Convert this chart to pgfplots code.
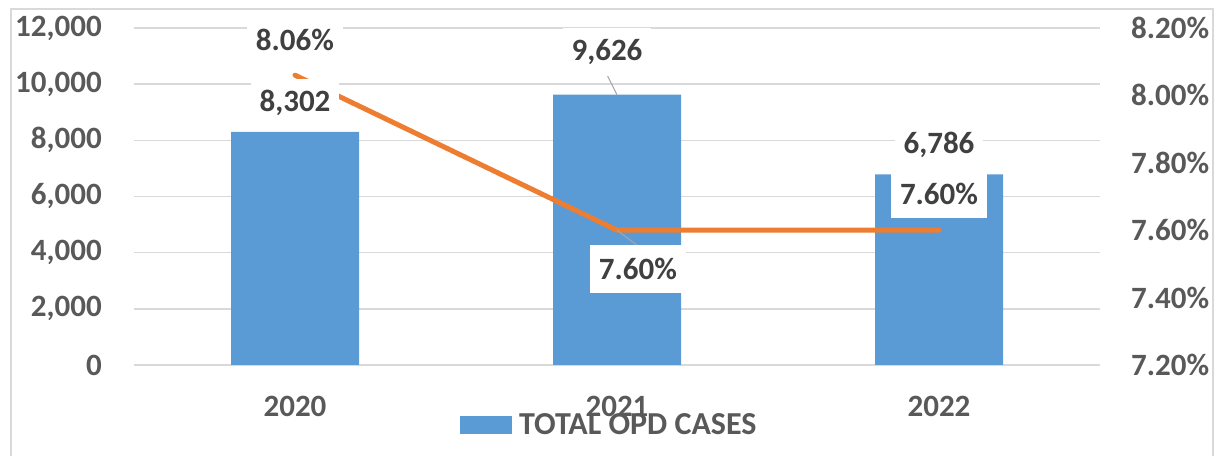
\documentclass[border=0pt]{standalone}
\usepackage{fontspec}
\setmainfont{Carlito}
\usepackage{pgfplots}
\pgfplotsset{compat=1.18}
\definecolor{barblue}{HTML}{5B9BD5}
\definecolor{lineorange}{HTML}{ED7D31}
\definecolor{gridgray}{HTML}{D9D9D9}
\definecolor{ticktext}{HTML}{595959}
\definecolor{labeltext}{HTML}{404040}
\definecolor{leader}{HTML}{A6A6A6}
\newcommand{\bigfont}{\fontsize{31}{37}\selectfont\bfseries}
\begin{document}
\begin{tikzpicture}
\useasboundingbox (0,0) rectangle (1217pt,455pt);
\draw[gridgray, line width=1.5pt] (11pt,-20pt) rectangle (1213pt,446pt);
\pgfplotsset{
  base/.style={
    at={(134pt,90pt)}, anchor=south west,
    scale only axis, width=966pt, height=337pt,
    xmin=-0.5, xmax=2.5,
    axis line style={draw=none},
    major tick length=0pt,
    scaled y ticks=false,
    tick label style={font=\bigfont, text=ticktext},
    /pgf/number format/assume math mode=true,
  }
}
\begin{axis}[base,
  ymin=0, ymax=12000,
  ytick={0,2000,4000,6000,8000,10000,12000},
  yticklabels={0,{2,000},{4,000},{6,000},{8,000},{10,000},{12,000}},
  ymajorgrids, grid style={gridgray, line width=1.5pt},
  xtick={0,1,2}, xticklabels={2020,2021,2022},
  xticklabel style={anchor=center, inner sep=0pt, yshift=-41pt},
  yticklabel style={anchor=east, inner sep=0pt, xshift=-32pt},
]
\addplot[ybar, bar width=128pt, fill=barblue, draw=none] coordinates {(0,8302) (1,9626) (2,6786)};
\coordinate (b0) at (axis cs:0,8302);
\coordinate (b1) at (axis cs:1,9626);
\coordinate (b2) at (axis cs:2,6786);
\end{axis}
\begin{axis}[base,
  ymin=7.2, ymax=8.2,
  xtick=\empty,
  ytick={7.2,7.4,7.6,7.8,8.0,8.2},
  yticklabels={7.20\%,7.40\%,7.60\%,7.80\%,8.00\%,8.20\%},
  yticklabel pos=right,
  yticklabel style={anchor=west, inner sep=0pt, xshift=31pt},
]
\addplot[lineorange, line width=5pt, line cap=round, line join=round] coordinates {(0,8.06) (1,7.60) (2,7.60)};
\coordinate (l0) at (axis cs:0,8.06);
\coordinate (l1) at (axis cs:1,7.60);
\coordinate (l2) at (axis cs:2,7.60);
\end{axis}
\tikzset{lbl/.style={fill=white, font=\bigfont, text=labeltext, inner xsep=9pt, inner ysep=0pt, minimum height=48pt}}
\node[lbl] at ([yshift=29pt]b0) {8,302};
\node[lbl] at ([yshift=35pt]l0) {8.06\%};
\draw[leader, line width=1pt] (b1) -- ([xshift=-10pt,yshift=20pt]b1);
\node[lbl] at ([xshift=-10pt,yshift=43pt]b1) {9,626};
\draw[leader, line width=1pt] (l1) -- ([xshift=20pt,yshift=-15pt]l1);
\node[lbl] at ([xshift=21pt,yshift=-39pt]l1) {7.60\%};
\node[lbl] at ([yshift=30pt]b2) {6,786};
\node[lbl] at ([yshift=36pt]l2) {7.60\%};
% legend
\fill[barblue] (460pt,21pt) rectangle (512pt,39pt);
\node[anchor=west, inner sep=0pt, font=\fontsize{32}{38}\selectfont\bfseries, text=ticktext] at (519pt,31pt) {TOTAL OPD CASES};
\end{tikzpicture}
\end{document}
